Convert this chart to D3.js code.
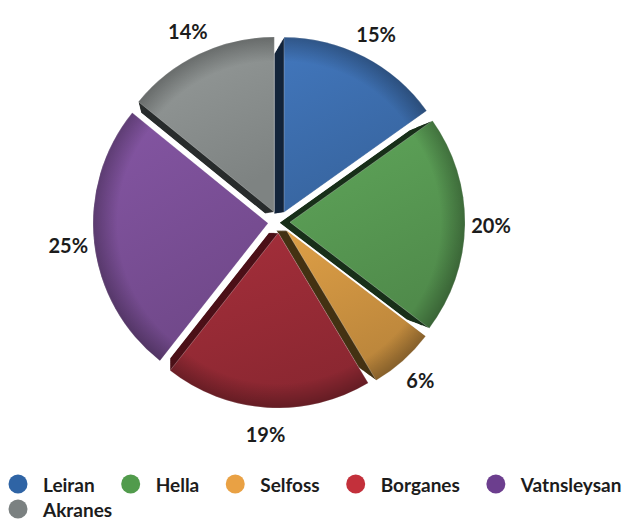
<!DOCTYPE html>
<html>
<head>
<meta charset="utf-8">
<script src="https://cdn.jsdelivr.net/npm/d3@7/dist/d3.min.js"></script>
<style>
  html, body { margin: 0; padding: 0; background: #fff; }
  svg { display: block; }
  text { font-family: Lato, "Open Sans", sans-serif; font-weight: 700; fill: #1c1c1c; }
</style>
</head>
<body>
<svg id="chart" width="630" height="523"></svg>
<script>
// ---- data ----
const categories = ["Leiran", "Hella", "Selfoss", "Borganes", "Vatnsleysan", "Akranes"];
const values = [15, 20, 6, 19, 25, 14];
const labels = ["15%", "20%", "6%", "19%", "25%", "14%"];

// ---- styles ----
const faceColors = ["#3c6dad", "#579852", "#cb9140", "#982b36", "#7a4f96", "#8a8f8e"];
const sideColors = ["#14253b", "#19301a", "#443213", "#4d1119", "#3a2348", "#2a2e2e"];
const legendColors = ["#2f64a5", "#519b4c", "#e9a144", "#c3303b", "#6c3e8e", "#7b8181"];

const W = 630, H = 523;
const cx = 279, cy = 222, R = 175, explode = 11;
const vp = [170, 230], depth = 0.085, steps = 18;

const svg = d3.select("#chart");
const defs = svg.append("defs");

const pie = d3.pie().sort(null).value(d => d);
const arcs = pie(values);
const arc = d3.arc().innerRadius(0).outerRadius(R);
const labelArc = d3.arc().innerRadius(212).outerRadius(212);

faceColors.forEach((c, i) => {
  const g = defs.append("linearGradient").attr("id", "face" + i)
    .attr("x1", 0).attr("y1", 0).attr("x2", 0.4).attr("y2", 1);
  g.append("stop").attr("offset", 0).attr("stop-color", d3.color(c).brighter(0.25));
  g.append("stop").attr("offset", 1).attr("stop-color", d3.color(c).darker(0.25));
});
const rim = defs.append("radialGradient").attr("id", "rim")
  .attr("gradientUnits", "userSpaceOnUse").attr("cx", 0).attr("cy", 0).attr("r", R);
rim.append("stop").attr("offset", 0.86).attr("stop-color", "#000").attr("stop-opacity", 0);
rim.append("stop").attr("offset", 1).attr("stop-color", "#000").attr("stop-opacity", 0.28);

function offsetOf(d) {
  const m = (d.startAngle + d.endAngle) / 2;
  return [cx + explode * Math.sin(m), cy - explode * Math.cos(m)];
}

// side (extrusion) layers
const sides = svg.append("g");
arcs.forEach((d, i) => {
  const [tx, ty] = offsetOf(d);
  for (let s = steps; s >= 1; s--) {
    const k = 1 - depth * s / steps;
    sides.append("g")
      .attr("transform", `translate(${vp[0]},${vp[1]}) scale(${k}) translate(${-vp[0]},${-vp[1]})`)
      .append("path")
      .attr("transform", `translate(${tx},${ty})`)
      .attr("d", arc(d))
      .attr("fill", sideColors[i]);
  }
});

// faces
const faces = svg.append("g");
arcs.forEach((d, i) => {
  const [tx, ty] = offsetOf(d);
  const g = faces.append("g").attr("transform", `translate(${tx},${ty})`);
  g.append("path").attr("d", arc(d)).attr("fill", `url(#face${i})`)
    .attr("stroke", "rgba(255,255,255,0.35)").attr("stroke-width", 0.8);
  g.append("path").attr("d", arc(d)).attr("fill", "url(#rim)");
});

// labels
svg.append("g").selectAll("text").data(arcs).join("text")
  .attr("transform", d => {
    const [x, y] = labelArc.centroid(d);
    return `translate(${cx + x},${cy + y})`;
  })
  .attr("text-anchor", "middle")
  .attr("dominant-baseline", "central")
  .style("font-size", "20px")
  .text((d, i) => labels[i]);

// legend (flow layout)
const legend = svg.append("g");
let lx = 18, ly = 484;
const rowH = 25, gap = 36, pad = 25, maxX = 630;
categories.forEach((name, i) => {
  const item = legend.append("g");
  const t = item.append("text").attr("x", pad).attr("y", 0)
    .attr("dominant-baseline", "central").style("font-size", "19px").text(name);
  const w = t.node().getComputedTextLength();
  if (lx + pad + w > maxX) { lx = 18; ly += rowH; }
  item.attr("transform", `translate(${lx},${ly})`);
  item.insert("circle", "text").attr("r", 9.5).attr("fill", legendColors[i]);
  lx += pad + w + gap;
});
</script>
</body>
</html>
